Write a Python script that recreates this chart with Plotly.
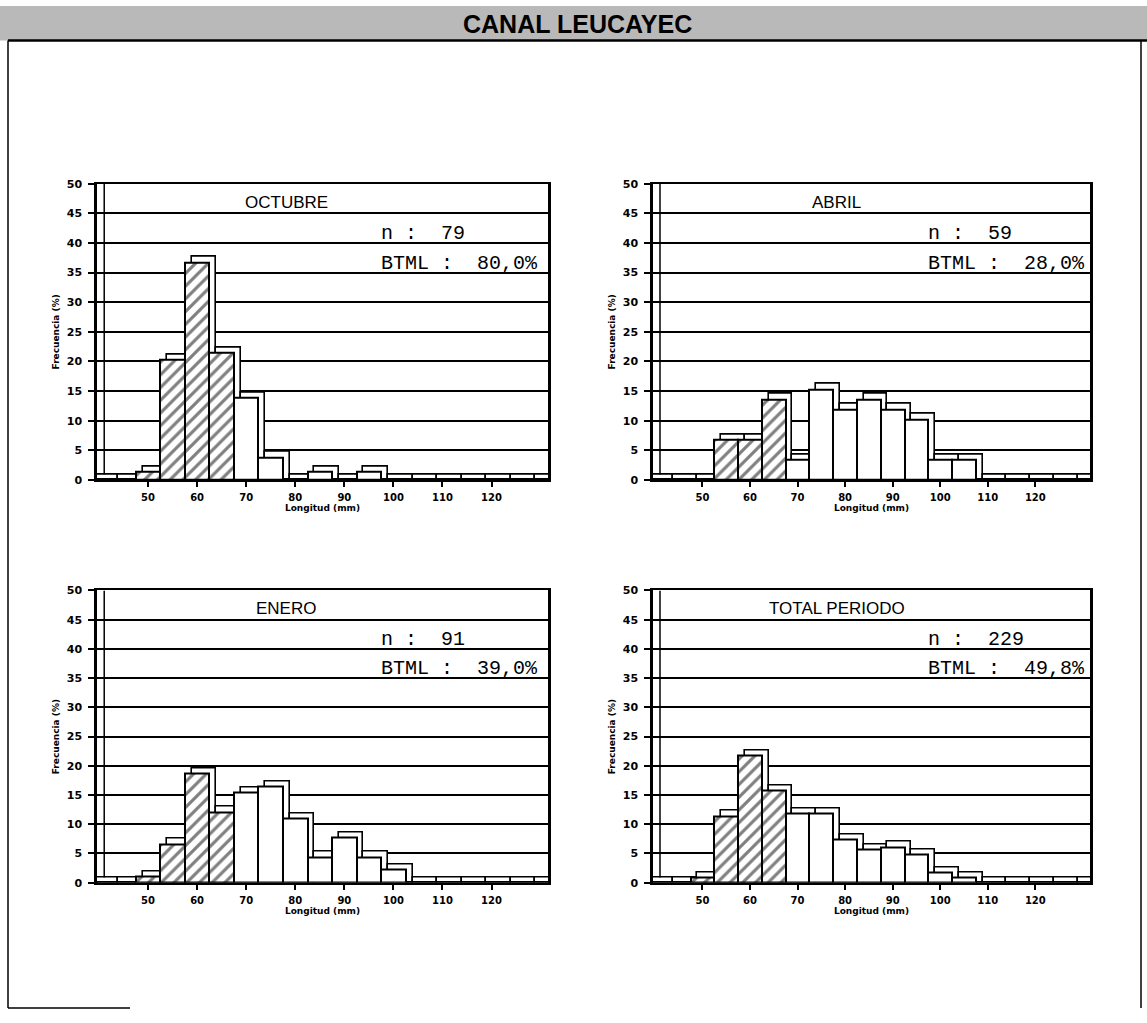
import plotly.graph_objects as go

# ---------------- data ----------------
longitud = [40, 45, 50, 55, 60, 65, 70, 75, 80, 85, 90, 95, 100, 105, 110, 115, 120, 125, 130]
octubre = [0, 0, 1.3, 20.3, 36.7, 21.5, 13.9, 3.8, 0, 1.3, 0, 1.3, 0, 0, 0, 0, 0, 0, 0]
abril = [0, 0, 0, 6.8, 6.8, 13.6, 3.4, 15.3, 11.9, 13.6, 11.9, 10.2, 3.4, 3.4, 0, 0, 0, 0, 0]
enero = [0, 0, 1.1, 6.6, 18.7, 12.1, 15.4, 16.5, 11.0, 4.4, 7.7, 4.4, 2.2, 0, 0, 0, 0, 0, 0]
total = [0, 0, 0.9, 11.4, 21.8, 15.7, 11.8, 11.8, 7.4, 5.7, 6.1, 4.8, 1.7, 0.9, 0, 0, 0, 0, 0]

panel_names = ["OCTUBRE", "ABRIL", "ENERO", "TOTAL PERIODO"]
panel_n = [79, 59, 91, 229]
panel_btml = ["80,0%", "28,0%", "39,0%", "49,8%"]
talla_minima = 67.5  # bins below this are BTML (hatched)

x_ticks = [50, 60, 70, 80, 90, 100, 110, 120]
y_ticks = [0, 5, 10, 15, 20, 25, 30, 35, 40, 45, 50]

series = [octubre, abril, enero, total]

# ---------------- layout helpers ----------------
W, H = 1147, 1023
def fx(px):
    return px / W
def fy(py):
    return 1 - py / H

x_domains = [[fx(97), fx(548)], [fx(653), fx(1090)], [fx(97), fx(548)], [fx(653), fx(1090)]]
y_domains = [[fy(480), fy(180)], [fy(480), fy(180)], [fy(888), fy(592)], [fy(888), fy(592)]]

DX = 1.4   # 3-D depth offset in x units
DY = 0.9   # 3-D depth offset in y units
BW = 5

fig = go.Figure()
annotations = []
shapes_all = []
for i, vals in enumerate(series):
    xa = "x" if i == 0 else f"x{i+1}"
    ya = "y" if i == 0 else f"y{i+1}"
    # back (depth) bars
    fig.add_trace(go.Bar(
        x=[v + DX for v in longitud], y=[v + DY for v in vals], width=BW,
        marker=dict(color="white", line=dict(color="black", width=1.6)),
        xaxis=xa, yaxis=ya, showlegend=False, hoverinfo="skip"))
    # front bars
    pshapes = ["/" if l < talla_minima else "" for l in longitud]
    fig.add_trace(go.Bar(
        x=longitud, y=vals, width=BW,
        marker=dict(color="white", line=dict(color="black", width=2),
                    pattern=dict(shape=pshapes, fgcolor="black", bgcolor="white",
                                 size=9, solidity=0.35)),
        xaxis=xa, yaxis=ya, showlegend=False,
        hovertemplate="%{x} mm: %{y}%<extra></extra>"))

    xkey = "xaxis" if i == 0 else f"xaxis{i+1}"
    ykey = "yaxis" if i == 0 else f"yaxis{i+1}"
    fig.layout[xkey] = dict(
        domain=x_domains[i], anchor=ya, range=[39.6, 131.5],
        tickvals=x_ticks, ticks="outside", ticklen=5, tickwidth=1.5, tickcolor="black",
        ticklabelstandoff=2,
        showgrid=False, zeroline=False, showline=True, linecolor="black", linewidth=2,
        mirror=True,
        tickfont=dict(family="DejaVu Sans", size=10, color="black", weight="bold"),
        title=dict(text="Longitud (mm)", standoff=2,
                   font=dict(family="DejaVu Sans", size=9, color="black", weight="bold")))
    fig.layout[ykey] = dict(
        domain=y_domains[i], anchor=xa, range=[0, 50],
        tickvals=y_ticks, ticks="outside", ticklen=6, tickwidth=1.5, tickcolor="black",
        ticklabelstandoff=4,
        showgrid=True, gridcolor="black", gridwidth=1.5, zeroline=False,
        showline=True, linecolor="black", linewidth=2.5, mirror=True,
        tickfont=dict(family="DejaVu Sans", size=11, color="black", weight="bold"),
        title=dict(text="Frecuencia (%)", standoff=6,
                   font=dict(family="DejaVu Sans", size=9, color="black", weight="bold")))

    # inner 3-D wall line next to the y axis
    shapes_all.append(dict(type="line", xref=f"{xa} domain", yref=ya,
                           x0=0.016, x1=0.016, y0=DY, y1=50,
                           line=dict(color="black", width=1.5)))

    annotations.append(dict(
        text=panel_names[i], xref=f"{xa} domain", yref=ya, x=0.42, y=44.9,
        xanchor="center", yanchor="bottom", showarrow=False,
        font=dict(family="Liberation Sans", size=17, color="black")))
    annotations.append(dict(
        text=f"n :  {panel_n[i]}", xref=f"{xa} domain", yref=ya, x=0.625, y=39.3,
        xanchor="left", yanchor="bottom", showarrow=False,
        font=dict(family="Liberation Mono", size=20, color="black")))
    annotations.append(dict(
        text=f"BTML :  {panel_btml[i]}", xref=f"{xa} domain", yref=ya, x=0.625, y=34.3,
        xanchor="left", yanchor="bottom", showarrow=False,
        font=dict(family="Liberation Mono", size=20, color="black")))

annotations.append(dict(
    text="CANAL LEUCAYEC", xref="paper", yref="paper", x=fx(577), y=fy(18),
    xanchor="center", yanchor="middle", showarrow=False,
    font=dict(family="Liberation Sans", size=25, color="black", weight="bold")))

frame_shapes = [
    dict(type="rect", xref="paper", yref="paper", x0=0, x1=1, y0=fy(35), y1=1,
         fillcolor="#b9b9b9", line=dict(width=0), layer="below"),
    dict(type="line", xref="paper", yref="paper", x0=fx(8), x1=1, y0=fy(35), y1=fy(35),
         line=dict(color="black", width=2.5)),
    dict(type="line", xref="paper", yref="paper", x0=fx(8), x1=fx(8), y0=fy(1015), y1=fy(35),
         line=dict(color="black", width=1.5)),
    dict(type="line", xref="paper", yref="paper", x0=fx(1141), x1=fx(1141), y0=fy(1015), y1=fy(35),
         line=dict(color="black", width=1.5)),
    dict(type="line", xref="paper", yref="paper", x0=fx(8), x1=fx(130), y0=fy(1015), y1=fy(1015),
         line=dict(color="black", width=1.5)),
]

fig.update_layout(
    width=W, height=H, margin=dict(l=0, r=0, t=0, b=0),
    paper_bgcolor="white", plot_bgcolor="white",
    barmode="overlay", bargap=0,
    annotations=annotations, shapes=frame_shapes + shapes_all, showlegend=False,
)

fig.write_html("out.html", config={"displayModeBar": False},
               post_script="document.body.style.margin='0px';")
